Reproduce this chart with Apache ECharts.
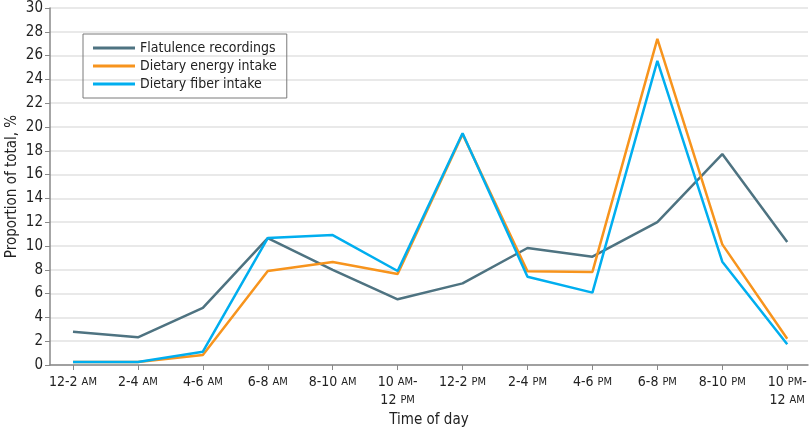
<!DOCTYPE html>
<html>
<head>
<meta charset="utf-8">
<script src="https://cdn.jsdelivr.net/npm/echarts@6/dist/echarts.min.js"></script>
<style>
  html, body { margin: 0; padding: 0; background: #fff; }
  #chart { width: 810px; height: 431px; }
</style>
</head>
<body>
<div id="chart"></div>
<script>
var FONT = '"Liberation Sans Narrow", "DejaVu Sans Condensed", sans-serif';

// time slots (AM/PM drawn as small caps via rich text)
var timeLabels = [
  '12-2 {s|AM}', '2-4 {s|AM}', '4-6 {s|AM}', '6-8 {s|AM}', '8-10 {s|AM}',
  '10 {s|AM}-\n12 {s|PM}', '12-2 {s|PM}', '2-4 {s|PM}', '4-6 {s|PM}',
  '6-8 {s|PM}', '8-10 {s|PM}', '10 {s|PM}-\n12 {s|AM}'
];
var yTicks = [0, 2, 4, 6, 8, 10, 12, 14, 16, 18, 20, 22, 24, 26, 28, 30];

var flatulence = [2.8, 2.33, 4.8, 10.67, 8.0, 5.52, 6.86, 9.83, 9.1, 12.0, 17.73, 10.34];
var energy     = [0.25, 0.25, 0.84, 7.9, 8.65, 7.65, 19.4, 7.87, 7.82, 27.4, 10.14, 2.21];
var fiber      = [0.25, 0.25, 1.12, 10.67, 10.92, 7.9, 19.47, 7.42, 6.08, 25.55, 8.68, 1.74];

function pairs(arr) {
  return arr.map(function (v, i) { return [i, v]; });
}
var slotIdx = timeLabels.map(function (_, i) { return i; });

var chart = echarts.init(document.getElementById('chart'));

chart.setOption({
  animation: false,
  textStyle: { fontFamily: FONT },
  grid: { left: 50, right: 2, top: 8, bottom: 66, outerBoundsMode: 'none' },
  legend: {
    left: 83, top: 34,
    orient: 'vertical',
    padding: [7, 10, 7, 10],
    borderColor: '#7a7a7a', borderWidth: 1,
    icon: 'rect', itemWidth: 42, itemHeight: 3, itemGap: 4,
    textStyle: { fontFamily: FONT, fontSize: 14, color: '#222' },
    data: ['Flatulence recordings', 'Dietary energy intake', 'Dietary fiber intake']
  },
  xAxis: {
    type: 'value',
    min: -0.354, max: 11.32,
    name: 'Time of day',
    nameLocation: 'middle', nameGap: 48, nameMoveOverlap: false,
    nameTextStyle: { fontFamily: FONT, fontSize: 15, color: '#222' },
    axisLine: { onZero: false, lineStyle: { color: '#888', width: 1.5 } },
    axisTick: { customValues: slotIdx, length: 5, lineStyle: { color: '#888' } },
    axisLabel: {
      customValues: slotIdx,
      margin: 8,
      color: '#222',
      fontSize: 14, lineHeight: 18,
      formatter: function (v) { return timeLabels[Math.round(v)]; },
      rich: { s: { fontSize: 11, color: '#222', fontFamily: FONT } }
    },
    splitLine: { show: false }
  },
  yAxis: {
    type: 'value',
    min: 0, max: 30, interval: 2,
    name: 'Proportion of total, %',
    nameLocation: 'middle', nameGap: 30, nameMoveOverlap: false,
    nameTextStyle: { fontFamily: FONT, fontSize: 15, color: '#222' },
    axisLine: { show: true, onZero: false, lineStyle: { color: '#888', width: 1.5 } },
    axisTick: { show: true, length: 5, lineStyle: { color: '#888' } },
    axisLabel: { margin: 7, color: '#222', fontSize: 15,
      formatter: function (v) { return yTicks.indexOf(v) >= 0 ? String(v) : ''; } },
    splitLine: { lineStyle: { color: '#e2e2e2', width: 1.5 } }
  },
  series: [
    { name: 'Flatulence recordings', type: 'line', data: pairs(flatulence),
      symbol: 'none', color: '#4e7381', lineStyle: { width: 2.5 } },
    { name: 'Dietary energy intake', type: 'line', data: pairs(energy),
      symbol: 'none', color: '#f7941d', lineStyle: { width: 2.5 } },
    { name: 'Dietary fiber intake', type: 'line', data: pairs(fiber),
      symbol: 'none', color: '#00aeef', lineStyle: { width: 2.5 } }
  ]
});
</script>
</body>
</html>
